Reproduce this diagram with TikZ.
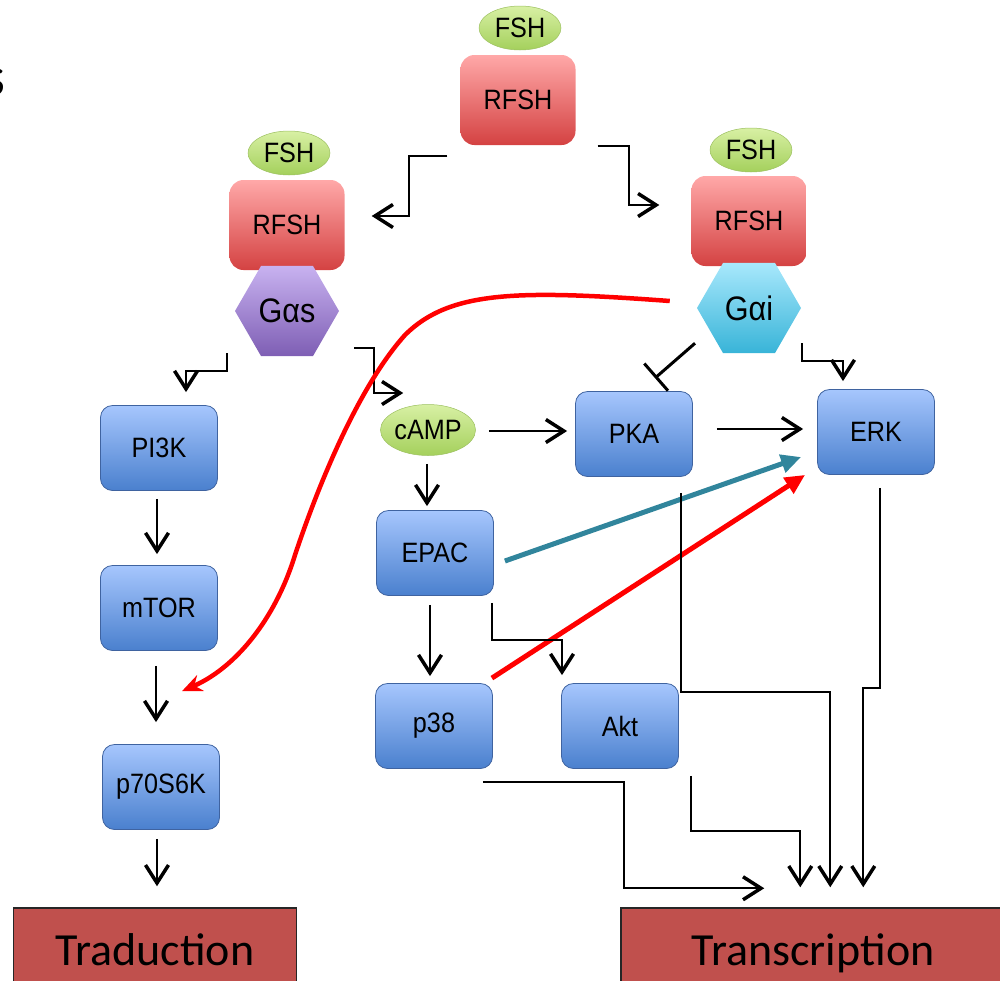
\documentclass[tikz,border=0pt]{standalone}
\usepackage{fontspec}
\setmainfont{Liberation Sans}[FakeStretch=0.9]
\newfontfamily\calib{Carlito}
\usetikzlibrary{arrows.meta,shapes.geometric,calc}

\definecolor{protT}{HTML}{A6C6FD}
\definecolor{protB}{HTML}{4A80CE}
\definecolor{protline}{HTML}{3F63A0}
\definecolor{recT}{HTML}{FFA8A8}
\definecolor{recB}{HTML}{D44242}
\definecolor{ligT}{HTML}{D8F0A4}
\definecolor{ligB}{HTML}{A4D05C}
\definecolor{ligline}{HTML}{9CC060}
\definecolor{gsT}{HTML}{C8B2F0}
\definecolor{gsB}{HTML}{7E5EB4}
\definecolor{giT}{HTML}{A8E8FC}
\definecolor{giB}{HTML}{38B4D8}
\definecolor{outfill}{HTML}{C0504D}
\definecolor{epacteal}{HTML}{31859C}

\begin{document}
\begin{tikzpicture}[x=1pt,y=-1pt,
  >={Straight Barb[length=18pt,width=23pt,line width=3.5pt]},
  every node/.append style={font=\fontsize{28}{30}\selectfont},
  prot/.style={draw=protline,line width=0.8pt,rounded corners=12pt,top color=protT,bottom color=protB,
    minimum width=117pt,minimum height=85pt,inner sep=0pt},
  recep/.style={rounded corners=14pt,top color=recT,bottom color=recB,
    minimum width=115pt,minimum height=90pt,inner sep=0pt},
  lig/.style={ellipse,draw=ligline,line width=0.5pt,top color=ligT,bottom color=ligB,
    minimum width=82pt,minimum height=44pt,inner sep=0pt},
  gprot/.style={regular polygon,regular polygon sides=6,minimum size=104pt,inner sep=0pt,
    font=\fontsize{34}{36}\selectfont},
  outbox/.style={draw=black!85,line width=1.5pt,fill=outfill,inner sep=0pt,
    text height=30pt,text depth=8pt,font=\calib\fontsize{46}{50}\selectfont},
  arr/.style={->,line width=1.8pt},
  inhib/.style={-{Bar[width=36pt,line width=3pt]},line width=3pt},
  boldarr/.style={line width=5pt,-{Triangle[length=20pt,width=18pt]}}]

  \useasboundingbox (0,0) rectangle (1000,980);
  \clip (0,0) rectangle (1000,980);

  \node[font=\calib\fontsize{56}{60}\selectfont,anchor=base east,inner sep=0pt] (ttl) at (6,95) {s};

  % recepteurs
  \node[recep] (rfshT) at (518,100) {RFSH};
  \node[lig] (fshT) at (520,28) {FSH};
  \node[recep] (rfshL) at (287,225) {RFSH};
  \node[lig] (fshL) at (289,153) {FSH};
  \node[gprot,top color=gsT,bottom color=gsB] (gs) at (287,311) {Gαs};
  \node[recep] (rfshR) at (749,221) {RFSH};
  \node[lig] (fshR) at (751,150) {FSH};
  \node[gprot,top color=giT,bottom color=giB] (gi) at (749,308) {Gαi};

  % effecteurs
  \node[lig,minimum height=51pt] (camp) at (428,430) {cAMP};
  \node[prot] (pka) at (634,434) {PKA};
  \node[prot] (erk) at (876,432) {ERK};
  \node[prot] (pik) at (159,448) {PI3K};
  \node[prot] (mtor) at (159,608) {mTOR};
  \node[prot] (p70) at (161,787) {p70S6K};
  \node[prot] (epac) at (435,553) {EPAC};
  \node[prot] (p38) at (434,726) {p38};
  \node[prot] (akt) at (620,726) {Akt};

  \node[outbox,minimum width=283pt,minimum height=92pt] (trad) at (155,954) {Traduction};
  \node[outbox,minimum width=384pt,minimum height=92pt] (trans) at (813,954) {Transcription};

  % connexions
  \draw[arr] ($(rfshT.south west)+(-13,11)$) -| ($(rfshL.east)+(64,-9)$) -- ($(rfshL.east)+(27,-9)$);
  \draw[arr] ($(rfshT.south east)+(22,1)$) -| ($(rfshR.west)+(-62,-16)$) -- ($(rfshR.west)+(-32,-16)$);
  \draw[arr] ($(gs.south)+(-60,-3)$) |- ($(pik.north)+(27,-34)$) -- ($(pik.north)+(27,-13)$);
  \draw[arr] ($(gs.east)+(15,37)$) -| ($(camp.west)+(-6,-37)$) -- ($(camp.west)+(23,-37)$);
  \draw[arr] ($(camp.east)+(13,1)$) -- ($(pka.west)+(-8,-3)$);
  \draw[arr] ($(camp.south)+(-1,8)$) -- ($(epac.north)+(-8,-4)$);
  \draw[inhib] ($(gi.south)+(-54,-10)$) -- ($(pka.north)+(21,-13)$);
  \draw[arr] ($(gi.south)+(53,-10)$) |- ($(erk.north)+(-33,-28)$) -- ($(erk.north)+(-33,-8)$);
  \draw[arr] ($(pka.east)+(24,-5)$) -- ($(erk.west)+(-14,-3)$);
  \draw[boldarr,epacteal] ($(epac.east)+(11,8)$) -- ($(erk.west)+(-16,25)$);
  \draw[boldarr,red] ($(p38.north east)+(-1,-5)$) -- ($(erk.south west)+(-12,0)$);
  \draw[arr] ($(epac.south)+(-5,9)$) -- ($(p38.north)+(-4,-7)$);
  \draw[arr] ($(epac.south east)+(-2,7)$) |- ($(akt.north)+(-58,-43)$) -- ($(akt.north)+(-58,-8)$);
  \draw[arr] ($(pik.south)+(-2,8)$) -- ($(mtor.north)+(-2,-11)$);
  \draw[arr] ($(mtor.south)+(-3,15)$) -- ($(p70.north)+(-5,-22)$);
  \draw[arr] ($(p70.south)+(-4,9)$) -- ($(trad.north)+(2,-21)$);
  \draw[arr] ($(p38.south east)+(-10,13)$) -| ($(trans.north west)+(4,-19)$) -- ($(trans.north west)+(144,-19)$);
  \draw[arr] ($(akt.south east)+(12,7)$) |- ($(trans.north west)+(180,-76)$) -- ($(trans.north west)+(180,-20)$);
  \draw[arr] ($(pka.south east)+(-12,16)$) |- ($(trans.north west)+(210,-215)$) -- ($(trans.north west)+(210,-20)$);
  \draw[arr] ($(erk.south)+(4,13)$) |- ($(trans.north west)+(243,-219)$) -- ($(trans.north west)+(243,-20)$);

  % Galpha i vers p70S6K
  \draw[red,line width=4.5pt,-{Stealth[length=20pt,width=17pt]}] ($(gi.west)+(-27,-7)$)
    .. controls (520,290) and (450,290) .. (405,335)
    .. controls (360,385) and (320,480) .. (295,555)
    .. controls (275,620) and (235,668) .. ($(p70.north)+(21,-53)$);
\end{tikzpicture}
\end{document}
